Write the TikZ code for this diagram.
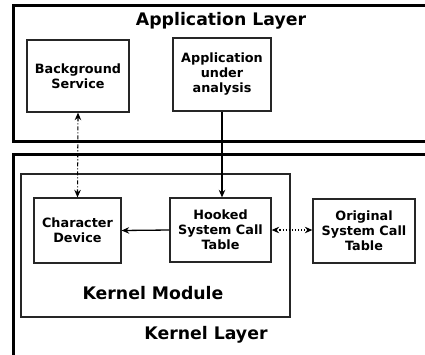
\documentclass[tikz,border=0pt]{standalone}
\usepackage{fontspec}
\setmainfont{DejaVu Sans}
\usetikzlibrary{arrows.meta}
\begin{document}
\begin{tikzpicture}[x=1pt,y=-1pt,
  layer/.style={draw=black,line width=3pt},
  box/.style={draw=black!85,line width=1.3pt,fill=white,align=center,font=\fontsize{12.8}{15}\selectfont\bfseries},
  modbox/.style={draw=black!85,line width=1.3pt},
  title/.style={font=\fontsize{17.3}{20}\selectfont\bfseries},
  arr/.style={line width=1.3pt,-{Stealth[length=7.5pt,width=6.5pt]}},
  darr/.style={line width=1.1pt,{Stealth[length=7.5pt,width=6.5pt]}-{Stealth[length=7.5pt,width=6.5pt]}}
]
\useasboundingbox (0,0) rectangle (425,354);
% layers
\draw[layer] (440,5) -- (13,5) -- (13,141) -- (440,141);
\draw[layer] (440,154) -- (13,154) -- (13,360);
\node[title] (applayer) at (221,21) {Application Layer};
% kernel module
\draw[modbox] (21,174) rectangle (290,317);
\node[title] (kmod) at (153,293) {Kernel Module};
\node[title] (klayer) at (206,335) {Kernel Layer};
% boxes
\node[box,minimum width=102pt,minimum height=72pt] (bs) at (78,76) {Background\\Service};
\node[box,minimum width=98pt,minimum height=73pt] (app) at (222,74.5) {Application\\under\\analysis};
\node[box,minimum width=87pt,minimum height=65pt] (cd) at (77.5,230.5) {Character\\Device};
\node[box,minimum width=101pt,minimum height=64pt] (hk) at (220.5,230) {Hooked\\System Call\\Table};
\node[box,minimum width=102pt,minimum height=64pt] (orig) at (364,231) {Original\\System Call\\Table};
% connectors
\draw[darr,dash pattern=on 4pt off 2pt on 1pt off 2pt] (bs.south) -- (cd.north);
\draw[arr] (app.south) -- (app.south |- hk.north);
\draw[arr] (hk.west) -- (cd.east);
\draw[darr,dotted] (hk.east) -- (hk.east -| orig.west);
\end{tikzpicture}
\end{document}
